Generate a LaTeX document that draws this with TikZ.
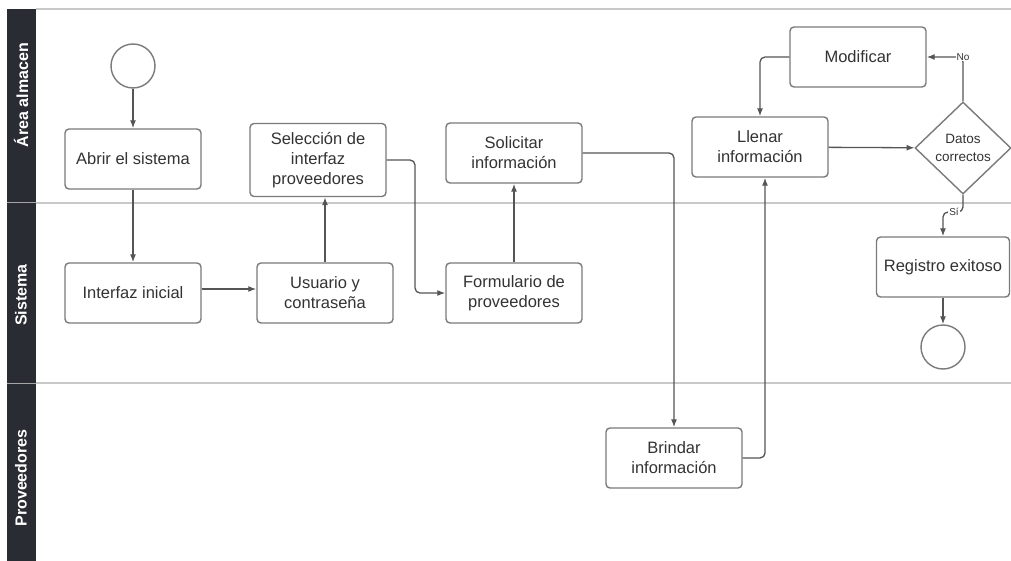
\documentclass[tikz,border=0pt]{standalone}
\usepackage{fontspec}
\setmainfont{Liberation Sans}
\usetikzlibrary{arrows.meta,shapes.geometric}
\definecolor{lanebar}{HTML}{2A2C33}
\definecolor{laneline}{HTML}{C9C9C9}
\definecolor{boxline}{HTML}{7A7A7A}
\definecolor{flowline}{HTML}{555555}
\definecolor{txt}{HTML}{333333}
\tikzset{
  stepbox/.style={draw=boxline, line width=1.4pt, rounded corners=4pt,
    minimum width=136pt, minimum height=60pt, align=center, text=txt,
    font=\fontsize{16.5}{20}\selectfont, inner sep=2pt},
  endpoint/.style={draw=boxline, line width=1.4pt, circle, minimum size=44pt, inner sep=0pt},
  decision/.style={draw=boxline, line width=1.4pt, diamond, minimum width=96pt,
    minimum height=92pt, align=center, text=txt, inner sep=0pt,
    font=\fontsize{13.5}{18}\selectfont},
  flow/.style={draw=flowline, line width=1.3pt, rounded corners=5pt,
    -{Latex[length=8pt,width=6pt]}},
  tag/.style={fill=white, text=txt, inner sep=1pt, font=\fontsize{10}{12}\selectfont},
  lanetitle/.style={rotate=90, text=white, font=\bfseries\fontsize{16}{19}\selectfont},
}
\begin{document}
\begin{tikzpicture}[x=1pt, y=-1pt]
\useasboundingbox (0,0) rectangle (1011,561);
\fill[white] (0,0) rectangle (1011,561);

% swimlanes
\fill[lanebar] (7,9) rectangle (36,561);
\draw[laneline, line width=1.5pt] (36,9) -- (1011,9);
\draw[laneline, line width=1.5pt] (36,203) -- (1011,203);
\draw[laneline, line width=1.5pt] (36,383) -- (1011,383);
\draw[gray!70, line width=1pt] (7,203) -- (36,203);
\draw[gray!70, line width=1pt] (7,383) -- (36,383);
\node[lanetitle] (laneA) at (21,95) {Área almacen};
\node[lanetitle] (laneS) at (21,295) {Sistema};
\node[lanetitle] (laneP) at (21,478) {Proveedores};

% nodes
\node[endpoint] (start) at (133,66) {};
\node[stepbox] (abrir) at (133,159) {Abrir el sistema};
\node[stepbox] (inicial) at (133,293) {Interfaz inicial};
\node[stepbox] (usuario) at (325,293) {Usuario y\\contraseña};
\node[stepbox, minimum height=73pt] (seleccion) at (318,160) {Selección de\\interfaz\\proveedores};
\node[stepbox] (formulario) at (514,293) {Formulario de\\proveedores};
\node[stepbox] (solicitar) at (514,153) {Solicitar\\información};
\node[stepbox] (brindar) at (674,458) {Brindar\\información};
\node[stepbox] (llenar) at (760,147) {Llenar\\información};
\node[stepbox] (modificar) at (858,57) {Modificar};
\node[decision] (datos) at (963,148) {Datos\\correctos};
\node[stepbox, minimum width=133pt] (registro) at (943,267) {Registro exitoso};
\node[endpoint] (fin) at (943,347) {};

% connectors
\draw[flow] (start) -- (abrir);
\draw[flow] (abrir) -- (inicial);
\draw[flow] ([yshift=4pt]inicial.east) -- ([yshift=4pt]usuario.west);
\draw[flow] (usuario.north) -- (usuario.north |- seleccion.south);
\draw[flow] (seleccion.east) -- (415,160) |- (formulario.west);
\draw[flow] (formulario) -- (solicitar);
\draw[flow] (solicitar.east) -| (brindar.north);
\coordinate (up) at (765,0);
\draw[flow] (brindar.east) -| (up |- llenar.south);
\draw[flow] (llenar) -- (datos);
\draw[flow] (datos.north) |- (modificar.east);
\node[tag] (no) at (datos.north |- modificar.east) {No};
\draw[flow] (modificar.west) -| (llenar.north);
\draw[flow] (datos.south) -- (963,212) -| (registro.north);
\node[tag] (si) at (954,212) {Sí};
\draw[flow] (registro.south) -- (fin.north);
\end{tikzpicture}
\end{document}
